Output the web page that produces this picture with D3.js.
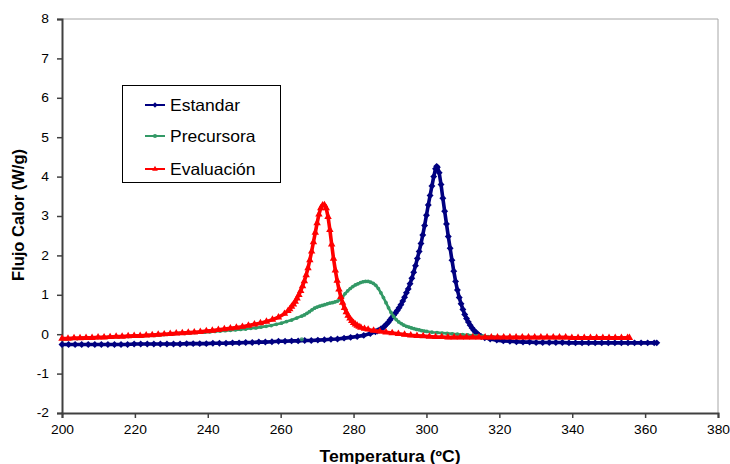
<!DOCTYPE html>
<html>
<head>
<meta charset="utf-8">
<script src="https://cdn.jsdelivr.net/npm/d3@7"></script>
<style>
  body { margin: 0; background: #fff; }
  svg { display: block; font-family: "Liberation Sans", Arial, sans-serif; }
</style>
</head>
<body>
<svg id="chart" width="730" height="464"></svg>
<script>
// Axis ticks
const xTicks = [200, 220, 240, 260, 280, 300, 320, 340, 360, 380];
const yTicks = [-2, -1, 0, 1, 2, 3, 4, 5, 6, 7, 8];

// Series names
const seriesNames = ["Estandar", "Precursora", "Evaluación"];

// Estandar: [temperature ºC, heat flow W/g]
const estandar = [
  [200.0,-0.26],[201.8,-0.26],[203.6,-0.26],[205.4,-0.26],[207.2,-0.26],[209.0,-0.26],[210.8,-0.26],
  [212.6,-0.26],[214.4,-0.26],[216.2,-0.26],[218.0,-0.26],[219.8,-0.25],[221.6,-0.25],[223.4,-0.25],
  [225.2,-0.25],[227.0,-0.25],[228.8,-0.25],[230.6,-0.25],[232.4,-0.25],[234.2,-0.24],[236.0,-0.24],
  [237.8,-0.24],[239.6,-0.24],[241.4,-0.23],[243.2,-0.23],[245.0,-0.23],[246.8,-0.22],[248.6,-0.22],
  [250.4,-0.21],[252.2,-0.21],[254.0,-0.20],[255.8,-0.20],[257.6,-0.19],[259.4,-0.18],[261.2,-0.18],
  [263.0,-0.17],[264.8,-0.17],[266.6,-0.16],[268.4,-0.16],[270.2,-0.15],[272.0,-0.14],[273.8,-0.13],
  [275.6,-0.12],[277.4,-0.10],[279.2,-0.08],[281.0,-0.06],[282.8,-0.03],[284.6,0.02],[286.0,0.06],
  [286.5,0.08],[287.0,0.10],[287.5,0.13],[288.0,0.16],[288.5,0.20],[289.0,0.25],[289.5,0.30],
  [290.0,0.36],[290.5,0.42],[291.0,0.48],[291.5,0.54],[292.0,0.60],[292.5,0.67],[293.0,0.75],
  [293.5,0.84],[294.0,0.94],[294.5,1.05],[295.0,1.15],[295.5,1.28],[296.0,1.42],[296.5,1.57],
  [297.0,1.74],[297.5,1.92],[298.0,2.10],[298.5,2.30],[299.0,2.52],[299.5,2.76],[300.0,3.02],
  [300.5,3.28],[301.0,3.52],[301.5,3.76],[302.0,4.00],[302.5,4.20],[302.8,4.26],[303.0,4.24],
  [303.5,4.10],[304.0,3.80],[304.5,3.45],[305.0,3.12],[305.5,2.80],[306.0,2.48],[306.5,2.18],
  [307.0,1.88],[307.5,1.60],[308.0,1.34],[308.5,1.12],[309.0,0.93],[309.5,0.77],[310.0,0.63],
  [310.5,0.50],[311.0,0.40],[311.5,0.31],[312.0,0.23],[312.5,0.16],[313.0,0.10],[313.5,0.05],
  [314.0,0.01],[314.5,-0.03],[315.0,-0.06],[316.0,-0.09],[317.5,-0.12],[319.3,-0.15],[321.1,-0.17],
  [322.9,-0.18],[324.7,-0.19],[326.5,-0.20],[328.3,-0.20],[330.1,-0.21],[331.9,-0.21],[333.7,-0.21],
  [335.5,-0.21],[337.3,-0.21],[339.1,-0.22],[340.9,-0.22],[342.7,-0.22],[344.5,-0.22],[346.3,-0.22],
  [348.1,-0.22],[349.9,-0.22],[351.7,-0.22],[353.5,-0.22],[355.3,-0.22],[357.1,-0.22],[358.9,-0.22],
  [360.7,-0.22],[362.5,-0.22],[363.2,-0.22]
];

// Precursora: [temperature ºC, heat flow W/g]
const precursora = [
  [200.0,-0.12],[201.4,-0.12],[202.8,-0.11],[204.2,-0.11],[205.6,-0.10],[207.0,-0.10],[208.4,-0.09],
  [209.8,-0.09],[211.2,-0.08],[212.6,-0.08],[214.0,-0.07],[215.4,-0.07],[216.8,-0.06],[218.2,-0.06],
  [219.6,-0.05],[221.0,-0.05],[222.4,-0.04],[223.8,-0.03],[225.2,-0.03],[226.6,-0.02],[228.0,-0.01],
  [229.4,0.00],[230.8,0.01],[232.2,0.02],[233.6,0.02],[235.0,0.03],[236.4,0.04],[237.8,0.05],
  [239.2,0.05],[240.6,0.06],[242.0,0.07],[243.4,0.08],[244.8,0.09],[246.2,0.10],[247.6,0.11],
  [249.0,0.12],[250.4,0.13],[251.8,0.15],[253.2,0.16],[254.6,0.18],[256.0,0.20],[257.4,0.22],
  [258.8,0.25],[260.2,0.28],[261.6,0.32],[263.0,0.36],[264.4,0.41],[265.8,0.46],[266.5,0.49],
  [267.2,0.53],[267.9,0.57],[268.6,0.62],[269.3,0.66],[270.0,0.69],[270.7,0.71],[271.4,0.73],
  [272.1,0.75],[272.8,0.77],[273.5,0.79],[274.2,0.80],[274.9,0.82],[275.6,0.84],[276.3,0.88],
  [277.0,0.95],[277.7,1.03],[278.4,1.10],[279.1,1.16],[279.8,1.21],[280.5,1.25],[281.2,1.28],
  [281.9,1.31],[282.6,1.33],[283.3,1.34],[284.0,1.34],[284.7,1.32],[285.4,1.29],[286.1,1.24],
  [286.8,1.16],[287.5,1.05],[288.2,0.93],[288.9,0.80],[289.6,0.67],[290.3,0.55],[291.0,0.45],
  [291.7,0.37],[292.4,0.31],[293.1,0.27],[293.8,0.23],[294.5,0.20],[295.2,0.18],[295.9,0.16],
  [296.6,0.14],[297.3,0.12],[298.0,0.11],[298.7,0.09],[299.4,0.08],[300.1,0.07],[301.5,0.05],
  [302.9,0.04],[304.3,0.03],[305.7,0.02],[307.1,0.01],[308.5,0.00],[309.9,-0.01],[311.3,-0.02],
  [312.7,-0.03],[314.1,-0.04],[315.5,-0.05],[316.9,-0.06],[318.3,-0.07],[319.7,-0.07],[321.1,-0.08],
  [322.5,-0.08],[323.9,-0.08],[325.3,-0.08],[326.7,-0.08],[328.1,-0.08],[329.5,-0.08],[330.9,-0.09],
  [332.3,-0.09],[333.7,-0.09],[335.1,-0.09],[336.5,-0.09],[337.9,-0.09],[339.3,-0.09],[340.7,-0.09],
  [342.1,-0.09],[343.5,-0.09],[344.9,-0.09],[346.3,-0.10],[347.7,-0.10],[349.1,-0.10],[350.5,-0.10],
  [351.9,-0.10],[353.3,-0.10],[354.7,-0.10]
];

// Single isolated Precursora reading
const precursoraSuelto = [[265.8,-0.13]];

// Evaluación: [temperature ºC, heat flow W/g]
const evaluacion = [
  [200.0,-0.11],[201.65,-0.11],[203.3,-0.10],[204.95,-0.10],[206.6,-0.09],[208.25,-0.09],[209.9,-0.08],
  [211.55,-0.08],[213.2,-0.07],[214.85,-0.06],[216.5,-0.06],[218.15,-0.05],[219.8,-0.04],[221.45,-0.04],
  [223.1,-0.03],[224.75,-0.02],[226.4,-0.01],[228.05,0.00],[229.7,0.01],[231.35,0.02],[233.0,0.03],
  [234.65,0.04],[236.3,0.05],[237.95,0.06],[239.6,0.08],[241.25,0.09],[242.9,0.11],[244.55,0.13],
  [246.2,0.15],[247.85,0.17],[249.5,0.19],[251.15,0.22],[252.8,0.25],[254.45,0.28],[256.1,0.32],
  [257.75,0.37],[259.4,0.43],[261.05,0.52],[262.0,0.59],[262.5,0.64],[263.0,0.70],[263.5,0.76],
  [264.0,0.83],[264.5,0.91],[265.0,1.00],[265.5,1.10],[266.0,1.22],[266.5,1.35],[267.0,1.50],
  [267.5,1.68],[268.0,1.88],[268.5,2.10],[269.0,2.34],[269.5,2.58],[270.0,2.82],[270.5,3.04],
  [271.0,3.20],[271.5,3.27],[272.0,3.28],[272.5,3.20],[273.0,2.98],[273.5,2.65],[274.0,2.28],
  [274.5,1.92],[275.0,1.62],[275.5,1.36],[276.0,1.14],[276.5,0.95],[277.0,0.80],[277.5,0.67],
  [278.0,0.56],[278.5,0.47],[279.0,0.40],[279.5,0.34],[280.0,0.29],[280.5,0.25],[281.0,0.22],
  [281.5,0.19],[282.0,0.17],[283.0,0.14],[284.0,0.12],[285.5,0.09],[287.2,0.07],[288.9,0.05],
  [290.6,0.03],[292.3,0.01],[294.0,-0.01],[295.7,-0.03],[297.4,-0.04],[299.1,-0.05],[300.8,-0.06],
  [302.5,-0.07],[304.2,-0.07],[305.9,-0.08],[307.6,-0.08],[309.3,-0.08],[311.0,-0.08],[312.7,-0.08],
  [314.4,-0.08],[316.1,-0.08],[317.8,-0.08],[319.5,-0.08],[321.2,-0.08],[322.9,-0.08],[324.6,-0.08],
  [326.3,-0.08],[328.0,-0.08],[329.7,-0.08],[331.4,-0.08],[333.1,-0.08],[334.8,-0.08],[336.5,-0.08],
  [338.2,-0.08],[339.9,-0.09],[341.6,-0.09],[343.3,-0.09],[345.0,-0.09],[346.7,-0.09],[348.4,-0.09],
  [350.1,-0.09],[351.8,-0.09],[353.5,-0.09],[355.2,-0.09],[355.7,-0.09]
];

const svg = d3.select("#chart");
const FONT = '"Liberation Sans", Arial, sans-serif';

const x = d3.scaleLinear().domain([200, 380]).range([62, 718]);
const y = d3.scaleLinear().domain([-2, 8]).range([413, 19]);

// Widen a text element horizontally (the chart lettering is slightly stretched)
function widen(sel, factor) {
  sel.each(function () {
    const w = this.getComputedTextLength();
    d3.select(this).attr("textLength", w * factor).attr("lengthAdjust", "spacingAndGlyphs");
  });
}

// Plot frame: light top/right edges
svg.append("path")
  .attr("d", `M${x(200)},${y(8)}H${x(380)}V${y(-2)}`)
  .attr("fill", "none")
  .attr("stroke", "#a6a6a6")
  .attr("stroke-width", 1);

// Axes
const yAxis = svg.append("g")
  .attr("transform", `translate(${x(200)},0)`)
  .call(d3.axisLeft(y).tickValues(yTicks).tickSize(5).tickPadding(8).tickFormat(d => String(d)));
const xAxis = svg.append("g")
  .attr("transform", `translate(0,${y(-2)})`)
  .call(d3.axisBottom(x).tickValues(xTicks).tickSize(5).tickPadding(7).tickFormat(d => String(d)));

[yAxis, xAxis].forEach(g => {
  g.select(".domain").attr("stroke", "#404040").attr("stroke-width", 2);
  g.selectAll(".tick line").attr("stroke", "#404040").attr("stroke-width", 1.5);
  g.selectAll(".tick text")
    .attr("fill", "#000")
    .style("font-size", "12px")
    .style("font-family", FONT)
    .call(widen, 1.15);
});

// Axis titles
svg.append("text")
  .attr("x", 390).attr("y", 462)
  .attr("text-anchor", "middle")
  .style("font-size", "16px").style("font-weight", "bold")
  .text("Temperatura (ºC)")
  .call(widen, 1.1);

svg.append("text")
  .attr("transform", "translate(24,215) rotate(-90)")
  .attr("text-anchor", "middle")
  .style("font-size", "16.5px").style("font-weight", "bold")
  .text("Flujo Calor (W/g)");

// Rotated square (diamond) marker
const symbolRhombus = {
  draw(ctx, size) {
    const r = Math.sqrt(size / 2);
    ctx.moveTo(0, -r); ctx.lineTo(r, 0); ctx.lineTo(0, r); ctx.lineTo(-r, 0); ctx.closePath();
  }
};

// Series styling
const styles = [
  { data: estandar,   color: "#000080", symbol: symbolRhombus,     size: 24, width: 3.6 },
  { data: precursora, color: "#339966", symbol: d3.symbolCircle,   size: 11, width: 2.6 },
  { data: evaluacion, color: "#ff0000", symbol: d3.symbolTriangle, size: 24, width: 3.6 }
];

const line = d3.line().x(d => x(d[0])).y(d => y(d[1]));

styles.forEach((s, i) => {
  const g = svg.append("g").attr("class", "serie-" + i);
  g.append("path")
    .datum(s.data)
    .attr("d", line)
    .attr("fill", "none")
    .attr("stroke", s.color)
    .attr("stroke-width", s.width)
    .attr("stroke-linejoin", "round");
  g.selectAll("path.m")
    .data(s.data)
    .join("path")
    .attr("class", "m")
    .attr("d", d3.symbol().type(s.symbol).size(s.size))
    .attr("transform", d => `translate(${x(d[0])},${y(d[1])})`)
    .attr("fill", s.color);
  if (i === 1) {
    g.selectAll("path.s")
      .data(precursoraSuelto)
      .join("path")
      .attr("class", "s")
      .attr("d", d3.symbol().type(s.symbol).size(14))
      .attr("transform", d => `translate(${x(d[0])},${y(d[1])})`)
      .attr("fill", s.color)
      .attr("opacity", 0.8);
  }
});

// Legend
const legend = svg.append("g");
legend.append("rect")
  .attr("x", 122.5).attr("y", 85.5)
  .attr("width", 158).attr("height", 97)
  .attr("fill", "#fff")
  .attr("stroke", "#000")
  .attr("stroke-width", 1);

const rowY = [105, 136, 169];
styles.forEach((s, i) => {
  const ly = rowY[i];
  legend.append("line")
    .attr("x1", 145).attr("x2", 165)
    .attr("y1", ly).attr("y2", ly)
    .attr("stroke", s.color)
    .attr("stroke-width", 2);
  legend.append("path")
    .attr("d", d3.symbol().type(s.symbol).size(14))
    .attr("transform", `translate(155,${ly})`)
    .attr("fill", s.color);
  legend.append("text")
    .attr("x", 170).attr("y", ly + 6)
    .style("font-size", "16.5px")
    .text(seriesNames[i])
    .call(widen, 1.06);
});
</script>
</body>
</html>
